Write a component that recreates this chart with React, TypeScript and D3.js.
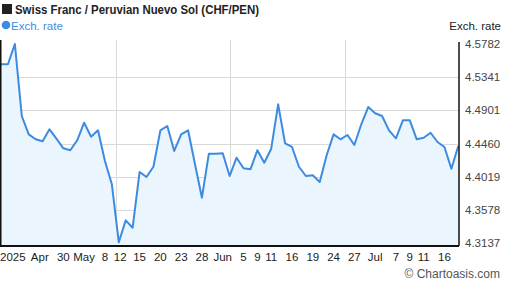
import React from "react";
import * as d3 from "d3";

const title = "Swiss Franc / Peruvian Nuevo Sol (CHF/PEN)";
const seriesName = "Exch. rate";

// daily closes, Apr 17 – Jul 18 2025 (business days)
const rates = [
  4.5513, 4.5513, 4.5782, 4.4827, 4.4584, 4.4518, 4.4491, 4.465, 4.4526, 4.4398,
  4.4372, 4.4505, 4.4738, 4.4552, 4.4637, 4.423, 4.3921, 4.3152, 4.3443, 4.3345,
  4.4084, 4.4018, 4.4154, 4.4637, 4.4694, 4.4363, 4.4584, 4.4637, 4.4186, 4.3743,
  4.4327, 4.4327, 4.4332, 4.4031, 4.4274, 4.4133, 4.412, 4.4372, 4.4207, 4.4393,
  4.4982, 4.4465, 4.4416, 4.4154, 4.4031, 4.404, 4.3951, 4.4306, 4.4584, 4.4518,
  4.4575, 4.4442, 4.4717, 4.4946, 4.4863, 4.4827, 4.4637, 4.4531, 4.477, 4.477,
  4.4518, 4.4539, 4.4605, 4.4482, 4.4416, 4.4128, 4.4429,
];

const yTicks = [4.3137, 4.3578, 4.4019, 4.446, 4.4901, 4.5341, 4.5782];

const xTickLabels = [
  "2025", "Apr", "30", "May", "8", "12", "15", "20", "23", "28", "Jun", "5", "9",
  "11", "16", "19", "24", "27", "Jul", "7", "9", "11", "16",
];
const xTickIdx = [
  1.7, 5.6, 9, 12, 15, 17.2, 20, 23, 26, 29, 32, 35, 37, 39, 42, 45, 48, 51, 54,
  57, 59, 61, 64,
];

const W = 507;
const H = 288;
const left = 1;
const right = 459;
const top = 40;
const bottom = 246;

const App: React.FC = () => {
  const x = d3
    .scaleLinear()
    .domain([0, rates.length - 1])
    .range([left, 458.3]);
  const y = d3
    .scaleLinear()
    .domain([yTicks[0], yTicks[yTicks.length - 1]])
    .range([243.4, 44]);

  const line = d3
    .line<number>()
    .x((d, i) => x(i))
    .y((d) => y(d));
  const area = d3
    .area<number>()
    .x((d, i) => x(i))
    .y0(bottom)
    .y1((d) => y(d));

  const font = "Arial, 'Liberation Sans', sans-serif";

  return (
    <svg
      width={W}
      height={H}
      style={{ position: "absolute", left: 0, top: 0, fontFamily: font }}
    >
      <rect width={W} height={H} fill="#fff" />
      {/* header */}
      <rect x={2} y={4} width={10} height={10} fill="#222" />
      <text
        x={15}
        y={14}
        fontSize={12}
        fontWeight="bold"
        fill="#222"
        textLength={244}
        lengthAdjust="spacingAndGlyphs"
      >
        {title}
      </text>
      <circle cx={6} cy={25} r={4.3} fill="#3d8be0" />
      <text x={11} y={29.5} fontSize={11.5} fill="#3d8be0">
        {seriesName}
      </text>
      <text x={501} y={30} fontSize={11.5} fill="#222" textAnchor="end">
        {seriesName}
      </text>

      {/* grid */}
      {yTicks.slice(1, -1).map((t) => (
        <line
          key={t}
          x1={left}
          x2={right}
          y1={Math.round(y(t)) + 0.5}
          y2={Math.round(y(t)) + 0.5}
          stroke="#d9d9d9"
        />
      ))}
      {[1, 2, 3].map((k) => {
        const gx = Math.round(left + ((right - left) * k) / 4) + 0.5;
        return (
          <line key={k} x1={gx} x2={gx} y1={top} y2={bottom} stroke="#d9d9d9" />
        );
      })}

      <path d={area(rates) ?? ""} fill="#ebf5fe" />
      <path
        d={line(rates) ?? ""}
        fill="none"
        stroke="#3d8be0"
        strokeWidth={2}
        strokeLinejoin="round"
      />

      {/* axes */}
      <line x1={0.75} x2={0.75} y1={top} y2={bottom} stroke="#111" strokeWidth={1.5} />
      <line x1={right} x2={right} y1={42} y2={bottom} stroke="#111" strokeWidth={1.5} />
      <line x1={0} x2={right} y1={bottom} y2={bottom} stroke="#111" strokeWidth={2} />

      {yTicks.map((t) => (
        <text key={t} x={465} y={y(t) + 4} fontSize={11.5} fill="#444">
          {t.toFixed(4)}
        </text>
      ))}
      {xTickLabels.map((l, i) => (
        <text
          key={i}
          x={x(xTickIdx[i])}
          y={261}
          fontSize={11.5}
          fill="#222"
          textAnchor="middle"
        >
          {l}
        </text>
      ))}

      <text x={500} y={278} fontSize={12} fill="#555" textAnchor="end">
        © Chartoasis.com
      </text>
    </svg>
  );
};

export default App;
